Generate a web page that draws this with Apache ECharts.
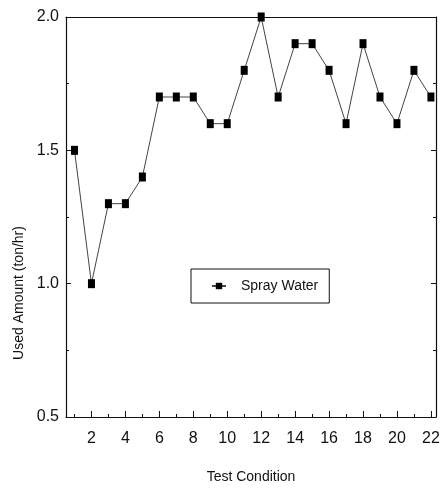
<!DOCTYPE html>
<html>
<head>
<meta charset="utf-8">
<script src="https://cdn.jsdelivr.net/npm/echarts@6/dist/echarts.min.js"></script>
<style>
  html, body { margin: 0; padding: 0; background: #fff; }
  #chart { width: 443px; height: 489px; }
</style>
</head>
<body>
<div id="chart"></div>
<script>
// Spray water consumption per test condition
const testConditions = [1, 2, 3, 4, 5, 6, 7, 8, 9, 10, 11, 12, 13, 14, 15, 16, 17, 18, 19, 20, 21, 22];
const sprayWater = [1.5, 1.0, 1.3, 1.3, 1.4, 1.7, 1.7, 1.7, 1.6, 1.6, 1.8, 2.0, 1.7, 1.9, 1.9, 1.8, 1.6, 1.9, 1.7, 1.6, 1.8, 1.7];
const xMajorTicks = [2, 4, 6, 8, 10, 12, 14, 16, 18, 20, 22];
const xMinorTicks = [1, 3, 5, 7, 9, 11, 13, 15, 17, 19, 21];

const FONT = '"Liberation Sans Narrow", "Arial Narrow", "Liberation Sans", sans-serif';
const INK = '#111';

const chart = echarts.init(document.getElementById('chart'));
const xBase = { type: 'value', min: 0.5, max: 22.3, splitLine: { show: false } };

chart.setOption({
  animation: false,
  grid: { left: 66, top: 17, right: 7, bottom: 71 },
  legend: {
    data: ['Spray Water'],
    left: 191, top: 269,
    itemWidth: 14, itemHeight: 8,
    padding: [10, 11, 10, 20],
    borderColor: INK, borderWidth: 1,
    textStyle: { fontFamily: FONT, fontSize: 14, color: INK, padding: [0, 0, 0, 10] }
  },
  xAxis: [
    Object.assign({}, xBase, {
      position: 'bottom',
      name: 'Test Condition',
      nameLocation: 'middle', nameGap: 53,
      nameTextStyle: { fontFamily: FONT, fontSize: 14, color: INK },
      axisLine: { onZero: false, lineStyle: { color: INK, width: 1.2 } },
      axisTick: { show: true, inside: true, length: 6, customValues: xMajorTicks, lineStyle: { color: INK } },
      axisLabel: { customValues: xMajorTicks, fontFamily: FONT, fontSize: 16, color: INK, margin: 14 }
    }),
    Object.assign({}, xBase, {
      position: 'bottom', gridIndex: 0,
      axisLine: { show: false },
      axisTick: { show: true, inside: true, length: 3, customValues: xMinorTicks, lineStyle: { color: INK } },
      axisLabel: { show: false }
    }),
    Object.assign({}, xBase, {
      position: 'top',
      axisLine: { onZero: false, lineStyle: { color: INK, width: 1.2 } },
      axisTick: { show: false },
      axisLabel: { show: false }
    })
  ],
  yAxis: [
    {
      type: 'value', min: 0.5, max: 2.0, interval: 0.5,
      name: 'Used Amount (ton/hr)',
      nameLocation: 'middle', nameGap: 38,
      nameTextStyle: { fontFamily: FONT, fontSize: 14, color: INK, padding: [0, 152, 0, 0] },
      axisLine: { show: true, onZero: false, lineStyle: { color: INK, width: 1.2 } },
      axisTick: { show: true, inside: true, length: 5, lineStyle: { color: INK } },
      minorTick: { show: true, splitNumber: 2, length: 3, lineStyle: { color: INK } },
      axisLabel: { fontFamily: FONT, fontSize: 16, color: INK, margin: 7, formatter: v => v.toFixed(1) },
      splitLine: { show: false }
    },
    {
      type: 'value', min: 0.5, max: 2.0, interval: 0.5, position: 'right',
      axisLine: { show: true, onZero: false, lineStyle: { color: INK, width: 1.2 } },
      axisTick: { show: true, inside: true, length: 5, lineStyle: { color: INK } },
      minorTick: { show: true, splitNumber: 2, length: 3, lineStyle: { color: INK } },
      axisLabel: { show: false },
      splitLine: { show: false }
    }
  ],
  series: [{
    name: 'Spray Water',
    type: 'line',
    xAxisIndex: 0, yAxisIndex: 0,
    data: testConditions.map((c, i) => [c, sprayWater[i]]),
    symbol: 'rect', symbolSize: [7, 9],
    itemStyle: { color: '#000' },
    lineStyle: { color: '#444', width: 1 }
  }]
});
</script>
</body>
</html>
